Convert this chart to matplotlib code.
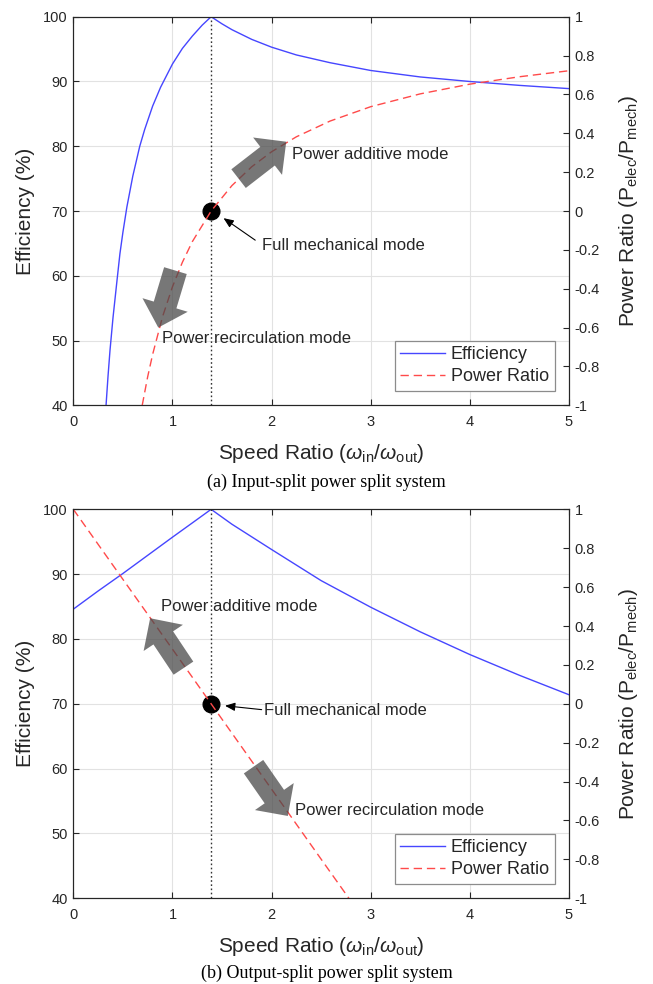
import matplotlib
matplotlib.use('Agg')
import matplotlib.pyplot as plt

plt.rcParams['font.family'] = ['Liberation Sans', 'DejaVu Sans']
plt.rcParams['mathtext.fontset'] = 'custom'
plt.rcParams['mathtext.rm'] = 'Liberation Sans'
plt.rcParams['mathtext.it'] = 'Liberation Sans:italic'

# (a) input-split: efficiency (%) and power ratio
a_eff_x = [0.33, 0.35, 0.37, 0.40, 0.44, 0.47, 0.50, 0.54, 0.60, 0.67, 0.72, 0.80, 0.88,
           1.00, 1.10, 1.20, 1.30, 1.39, 1.45, 1.50, 1.60, 1.80, 2.00, 2.25, 2.59, 3.00,
           3.50, 4.00, 4.50, 5.00]
a_eff = [40.0, 44.5, 48.5, 53.5, 59.2, 63.4, 66.7, 70.6, 75.4, 80.0, 82.6, 86.2, 89.1,
         92.7, 95.1, 97.0, 98.7, 100.0, 99.4, 98.9, 98.0, 96.5, 95.3, 94.1, 92.9, 91.7,
         90.7, 90.0, 89.4, 88.9]
a_pr_x = [0.695, 0.75, 0.80, 0.90, 1.00, 1.10, 1.20, 1.39, 1.60, 1.80, 2.00, 2.25, 2.59,
          3.00, 3.50, 4.00, 4.50, 5.00]
a_pr = [-1.0, -0.853, -0.738, -0.544, -0.39, -0.264, -0.158, 0.0, 0.131, 0.228, 0.305,
        0.382, 0.463, 0.537, 0.603, 0.653, 0.691, 0.722]

# (b) output-split
b_eff_x = [0.0, 0.25, 0.50, 0.75, 1.00, 1.20, 1.39, 1.60, 2.00, 2.50, 3.00, 3.50, 4.00,
           4.50, 5.00]
b_eff = [84.6, 87.4, 90.1, 92.9, 95.7, 97.9, 100.0, 97.7, 93.8, 89.0, 84.9, 81.1, 77.6,
         74.4, 71.4]
b_pr_x = [0.0, 0.50, 1.00, 1.39, 2.00, 2.50, 2.78]
b_pr = [1.0, 0.64, 0.281, 0.0, -0.439, -0.799, -1.0]

# full mechanical point (node)
node_x = 1.39
node_eff = 70

x_ticks = [0, 1, 2, 3, 4, 5]
eff_ticks = [40, 50, 60, 70, 80, 90, 100]
pr_ticks = [-1, -0.8, -0.6, -0.4, -0.2, 0, 0.2, 0.4, 0.6, 0.8, 1]
pr_labels = ['-1', '-0.8', '-0.6', '-0.4', '-0.2', '0', '0.2', '0.4', '0.6', '0.8', '1']

ink = '#262626'
blue = '#4646ff'
red = '#ff4a4a'

fig = plt.figure(figsize=(6.53, 9.84), dpi=100)


def block_arrow(ax2, ax, tail, tip):
    ax2.annotate('', xy=tip, xytext=tail, xycoords=ax.transData, textcoords=ax.transData,
                 arrowprops=dict(arrowstyle='simple,head_length=1.0,head_width=2.0,tail_width=1.0',
                                 mutation_scale=17, fc='#4a4a4a', ec='none', alpha=0.75,
                                 shrinkA=0, shrinkB=0), zorder=5)


def panel(rect, ex, ey, px, py, caption, cap_y, xlab_y):
    ax = fig.add_axes(rect)
    ax2 = ax.twinx()
    ax.set_axisbelow(True)

    l1, = ax.plot(ex, ey, color=blue, lw=1.0, label='Efficiency')
    l2, = ax2.plot(px, py, color=red, lw=1.0, linestyle=(0, (6, 3.5)), label='Power Ratio')
    ax.axvline(node_x, color='#333333', lw=1.0, linestyle=(0, (1.2, 1.8)))
    ax.plot([node_x], [node_eff], 'o', color='black', ms=12, zorder=6)

    ax.set_xlim(0, 5)
    ax.set_ylim(40, 100)
    ax2.set_ylim(-1, 1)
    ax.set_xticks(x_ticks)
    ax.set_yticks(eff_ticks)
    ax2.set_yticks(pr_ticks)
    ax2.set_yticklabels(pr_labels)
    ax.grid(True, color='#e2e2e2', lw=0.8)

    ax.tick_params(direction='in', length=4, width=0.8, top=True, labelsize=10.5,
                   colors=ink)
    ax.tick_params(axis='x', pad=7)
    ax.tick_params(axis='y', pad=4)
    ax2.tick_params(direction='in', length=4, width=0.8, labelsize=10.5, colors=ink, pad=4)
    for a in (ax, ax2):
        for s in a.spines.values():
            s.set_color(ink)
            s.set_linewidth(0.8)

    ax.set_xlabel(r'Speed Ratio ($\omega_{\mathregular{in}}$/$\omega_{\mathregular{out}}$)',
                  fontsize=15, color=ink, va='center')
    ax.xaxis.set_label_coords(0.5, xlab_y)
    ax.set_ylabel('Efficiency (%)', fontsize=15, color=ink, va='center')
    ax.yaxis.set_label_coords(-0.097, 0.5)
    ax2.set_ylabel(r'Power Ratio (P$_{\mathregular{elec}}$/P$_{\mathregular{mech}}$)',
                   fontsize=15, color=ink, va='center', rotation=90)
    ax2.yaxis.set_label_coords(1.121, 0.5)

    leg = ax2.legend([l1, l2], ['Efficiency', 'Power Ratio'], loc='lower right', fontsize=13,
                     fancybox=False, framealpha=1, edgecolor='#8c8c8c', borderaxespad=0.8,
                     handlelength=2.45, handletextpad=0.35, borderpad=0.3, labelspacing=0.3)
    leg.get_frame().set_linewidth(0.9)
    for t in leg.get_texts():
        t.set_color(ink)

    fig.text(0.5, cap_y, caption, ha='center', va='center', fontsize=13,
             family='Liberation Serif', color='black')
    return ax, ax2


# (a)
ax, ax2 = panel([0.1123, 0.5881, 0.7590, 0.3949], a_eff_x, a_eff, a_pr_x, a_pr,
                '(a) Input-split power split system', 0.5102, -0.123)
block_arrow(ax2, ax, (1.667, 75.0), (2.148, 80.7))
block_arrow(ax2, ax, (1.03, 60.8), (0.857, 52.0))
ax2.annotate('Power additive mode', xy=(2.21, 78.8), xycoords=ax.transData,
             fontsize=12, color=ink, va='center', ha='left')
ax2.annotate('Power recirculation mode', xy=(0.89, 50.3), xycoords=ax.transData,
             fontsize=12, color=ink, va='center', ha='left')
ax2.annotate('', xy=(1.515, 68.9), xytext=(1.835, 65.5), xycoords=ax.transData,
             textcoords=ax.transData,
             arrowprops=dict(arrowstyle='-|>,head_length=0.6,head_width=0.25', color='black',
                             lw=0.8, shrinkA=0, shrinkB=0))
ax2.annotate('Full mechanical mode', xy=(1.90, 64.75), xycoords=ax.transData,
             fontsize=12, color=ink, va='center', ha='left')

# (b)
bx, bx2 = panel([0.1123, 0.0871, 0.7590, 0.3953], b_eff_x, b_eff, b_pr_x, b_pr,
                '(b) Output-split power split system', 0.0112, -0.125)
block_arrow(bx2, bx, (1.111, 75.5), (0.775, 83.2))
block_arrow(bx2, bx, (1.818, 60.3), (2.164, 52.7))
bx2.annotate('Power additive mode', xy=(0.887, 85.0), xycoords=bx.transData,
             fontsize=12, color=ink, va='center', ha='left')
bx2.annotate('Power recirculation mode', xy=(2.24, 53.5), xycoords=bx.transData,
             fontsize=12, color=ink, va='center', ha='left')
bx2.annotate('', xy=(1.53, 69.7), xytext=(1.90, 69.1), xycoords=bx.transData,
             textcoords=bx.transData,
             arrowprops=dict(arrowstyle='-|>,head_length=0.6,head_width=0.25', color='black',
                             lw=0.8, shrinkA=0, shrinkB=0))
bx2.annotate('Full mechanical mode', xy=(1.92, 69.0), xycoords=bx.transData,
             fontsize=12, color=ink, va='center', ha='left')

fig.savefig('out.png', dpi=100, facecolor='white')
